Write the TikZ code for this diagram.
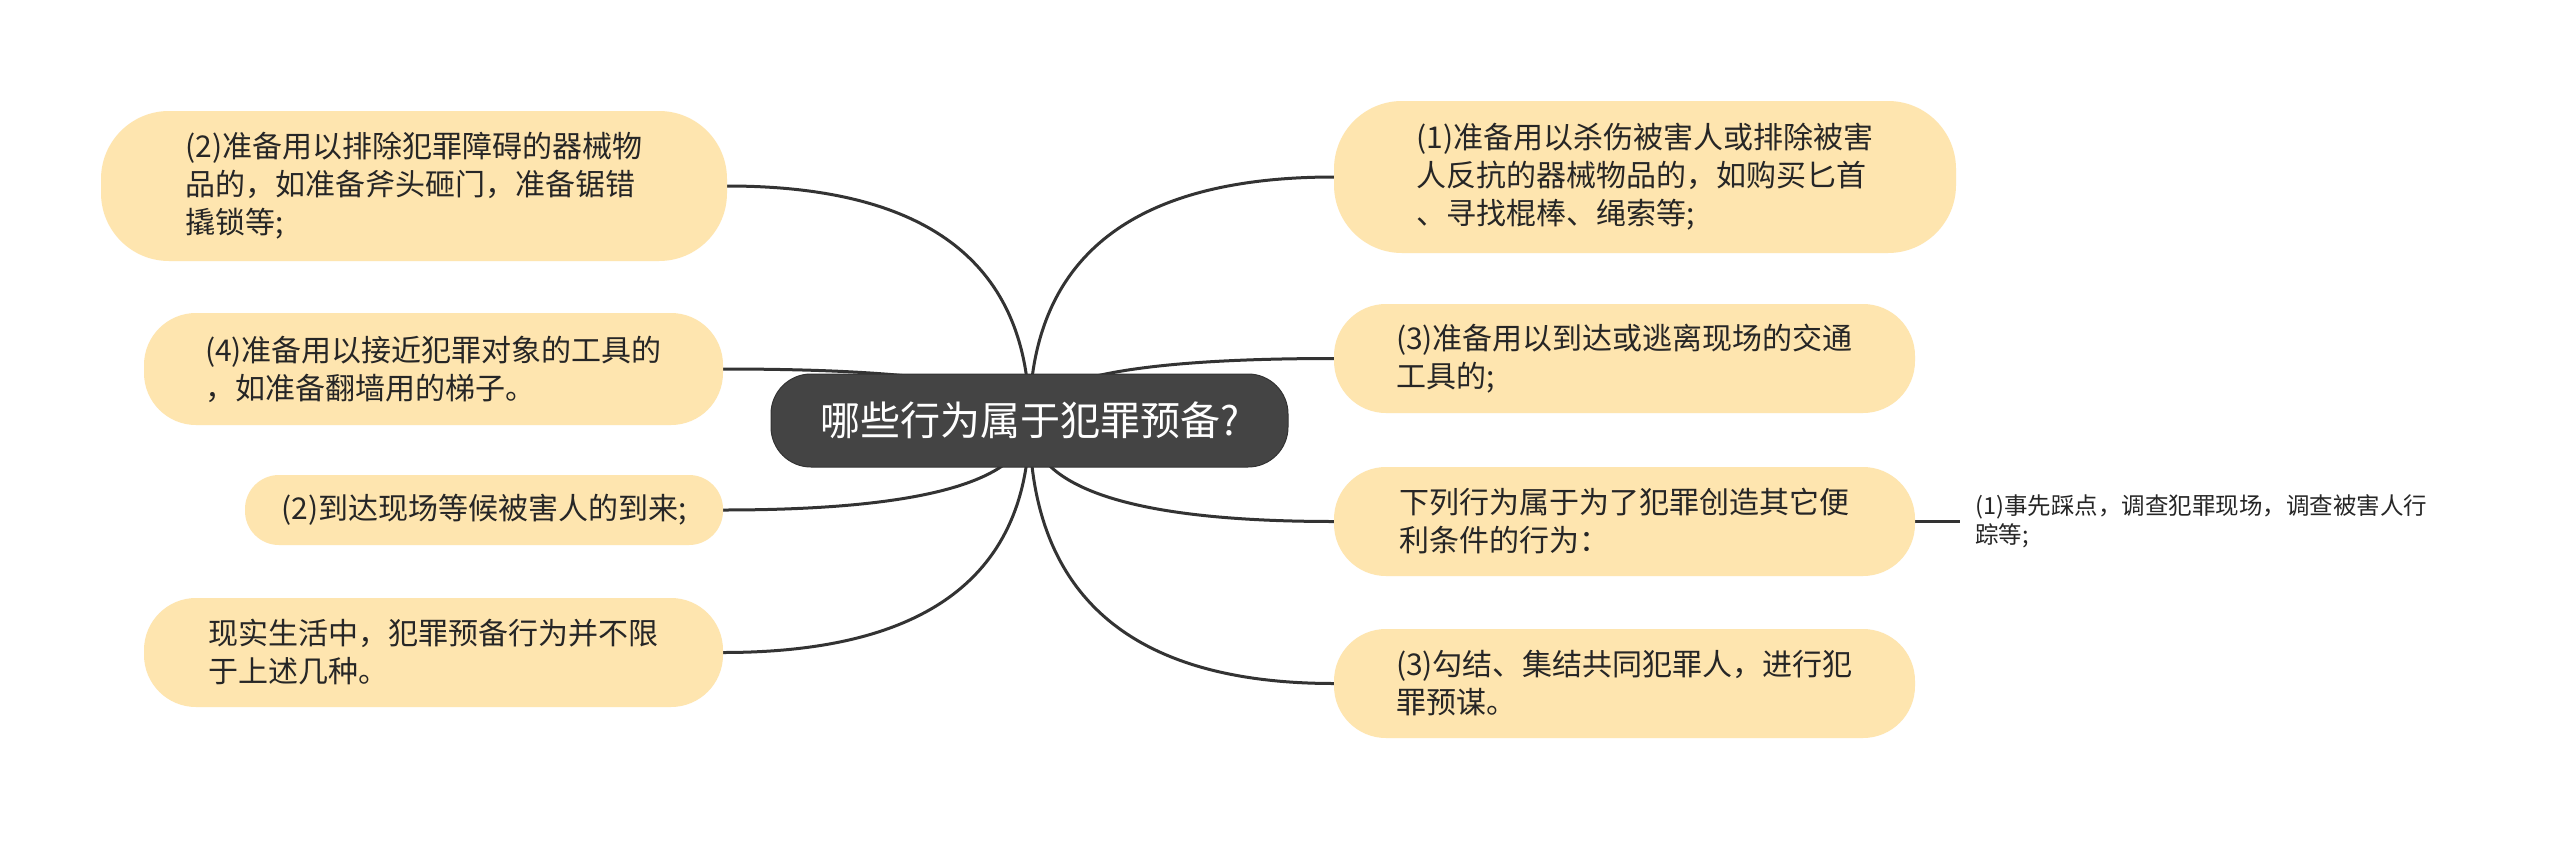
\documentclass[tikz,border=0pt]{standalone}
\usepackage{fontspec}
\setmainfont{Noto Sans CJK SC}
\usetikzlibrary{calc,backgrounds}
\definecolor{leafc}{HTML}{FEE5AF}
\definecolor{rootc}{HTML}{444444}
\definecolor{rootb}{HTML}{333333}
\definecolor{linec}{HTML}{333333}
\definecolor{textc}{HTML}{262626}
\newcommand\mmcurve[2]{\draw[conn] (#1) .. controls ($(#1)!0.6667!(#1 |- #2)$) and ($(#2)!0.6667!(#1 |- #2)$) .. (#2);}
\begin{document}
\begin{tikzpicture}[x=1pt,y=-1pt,
  leaf/.style={fill=leafc, align=left, text=textc, inner sep=0pt,
    font=\fontsize{30}{38}\selectfont},
  rootnode/.style={fill=rootc, draw=rootb, line width=1pt, text=white, inner sep=0pt,
    rounded corners=40pt, minimum width=517pt, minimum height=93pt,
    font=\fontsize{40}{48}\selectfont},
  subleaf/.style={align=left, text=textc, inner sep=0pt, anchor=west,
    font=\fontsize{23.5}{29}\selectfont},
  conn/.style={draw=linec, line width=3pt}]
\useasboundingbox (0,0) rectangle (2560,841);
\node[rootnode] (c) at (1029.5,420.5) {哪些行为属于犯罪预备?};
\node[leaf, minimum width=626pt, minimum height=150pt, rounded corners=68pt] (l1) at (414,186)
  {(2)准备用以排除犯罪障碍的器械物\\品的，如准备斧头砸门，准备锯错\\撬锁等;};
\node[leaf, minimum width=579pt, minimum height=112pt, rounded corners=52pt] (l2) at (433.5,369)
  {(4)准备用以接近犯罪对象的工具的\\，如准备翻墙用的梯子。};
\node[leaf, minimum width=478pt, minimum height=70pt, rounded corners=34pt] (l3) at (484,510)
  {(2)到达现场等候被害人的到来;};
\node[leaf, minimum width=579pt, minimum height=109pt, rounded corners=52pt] (l4) at (433.5,652.5)
  {现实生活中，犯罪预备行为并不限\\于上述几种。};
\node[leaf, minimum width=622pt, minimum height=152pt, rounded corners=68pt] (r1) at (1645,177)
  {(1)准备用以杀伤被害人或排除被害\\人反抗的器械物品的，如购买匕首\\、寻找棍棒、绳索等;};
\node[leaf, minimum width=581pt, minimum height=109pt, rounded corners=52pt] (r2) at (1624.5,358.5)
  {(3)准备用以到达或逃离现场的交通\\工具的;};
\node[leaf, minimum width=581pt, minimum height=109pt, rounded corners=52pt] (r3) at (1624.5,521.5)
  {下列行为属于为了犯罪创造其它便\\利条件的行为：};
\node[leaf, minimum width=581pt, minimum height=109pt, rounded corners=52pt] (r4) at (1624.5,683.5)
  {(3)勾结、集结共同犯罪人，进行犯\\罪预谋。};
\node[subleaf] (r3a) at (1975,521.5)
  {(1)事先踩点，调查犯罪现场，调查被害人行\\踪等;};
\coordinate (r3ae) at (1960,521.5);
\begin{scope}[on background layer]
  \fill[white] (0,0) rectangle (2560,841);
  \mmcurve{c.center}{l1.east}
  \mmcurve{c.center}{l2.east}
  \mmcurve{c.center}{l3.east}
  \mmcurve{c.center}{l4.east}
  \mmcurve{c.center}{r1.west}
  \mmcurve{c.center}{r2.west}
  \mmcurve{c.center}{r3.west}
  \mmcurve{c.center}{r4.west}
  \draw[conn] (r3.east) -- (r3ae);
\end{scope}
\end{tikzpicture}
\end{document}
